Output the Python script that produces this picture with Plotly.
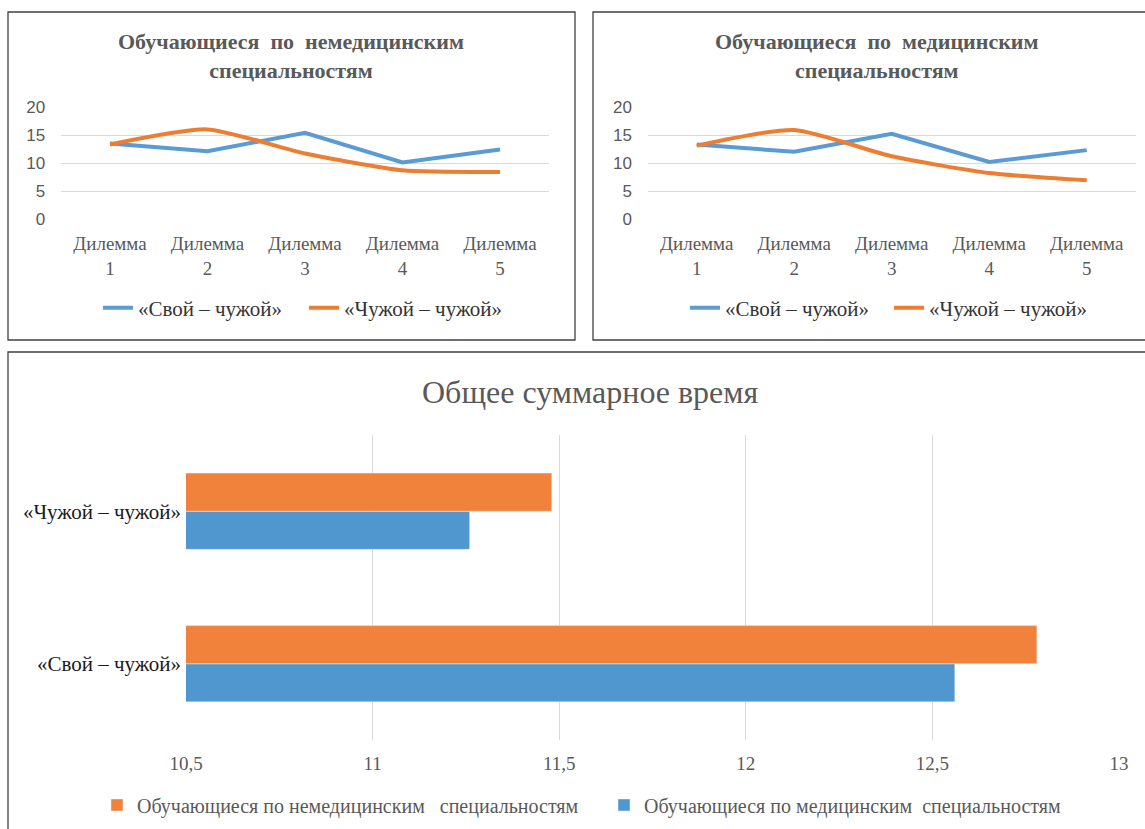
import plotly.graph_objects as go

W, H = 1145, 829

dilemmas = ["Дилемма<br>1", "Дилемма<br>2", "Дилемма<br>3", "Дилемма<br>4", "Дилемма<br>5"]

# Обучающиеся по немедицинским специальностям
nonmed_own = [13.5, 12.1, 15.4, 10.1, 12.4]
nonmed_other = [13.3, 16.0, 11.7, 8.7, 8.4]

# Обучающиеся по медицинским специальностям
med_own = [13.3, 12.0, 15.2, 10.2, 12.3]
med_other = [13.1, 15.9, 11.2, 8.2, 6.9]

# Общее суммарное время
total_categories = ["«Свой – чужой»", "«Чужой – чужой»"]
total_nonmed = [12.78, 11.48]
total_med = [12.56, 11.26]
total_ticks = [10.5, 11, 11.5, 12, 12.5, 13]
total_ticktext = ["10,5", "11", "11,5", "12", "12,5", "13"]

series_names = ["«Свой – чужой»", "«Чужой – чужой»"]
bar_names = ["Обучающиеся по немедицинским\u00a0\u00a0 специальностям",
             "Обучающиеся по медицинским\u00a0\u00a0специальностям"]

BLUE = "#5B9BD5"
ORANGE = "#ED7D31"
GRID = "#d9d9d9"
TXT = "#595959"
SERIF = '"Liberation Serif", "Times New Roman", "DejaVu Serif", serif'
SANS = '"Liberation Sans", Arial, sans-serif'


def px_x(p):
    return p / W


def px_y(p):
    return 1 - p / H


fig = go.Figure()

# panel 1
fig.add_trace(go.Scatter(x=dilemmas, y=nonmed_own, name=series_names[0], mode="lines",
                         line=dict(color=BLUE, width=4), xaxis="x", yaxis="y", legend="legend"))
fig.add_trace(go.Scatter(x=dilemmas, y=nonmed_other, name=series_names[1], mode="lines",
                         line=dict(color=ORANGE, width=4, shape="spline", smoothing=0.6),
                         xaxis="x", yaxis="y", legend="legend2"))
# panel 2
fig.add_trace(go.Scatter(x=dilemmas, y=med_own, name=series_names[0], mode="lines",
                         line=dict(color=BLUE, width=4), xaxis="x2", yaxis="y2", legend="legend3"))
fig.add_trace(go.Scatter(x=dilemmas, y=med_other, name=series_names[1], mode="lines",
                         line=dict(color=ORANGE, width=4, shape="spline", smoothing=0.6),
                         xaxis="x2", yaxis="y2", legend="legend4"))
# panel 3
fig.add_trace(go.Bar(y=total_categories, x=total_med, name=bar_names[1], orientation="h",
                     marker=dict(color="#5097D0"), xaxis="x3", yaxis="y3", legend="legend6"))
fig.add_trace(go.Bar(y=total_categories, x=total_nonmed, name=bar_names[0], orientation="h",
                     marker=dict(color="#F0823C"), xaxis="x3", yaxis="y3", legend="legend5"))

line_x = dict(type="category", showgrid=False, showline=False, zeroline=False, ticks="",
              range=[-0.5, 4.5], tickfont=dict(family=SERIF, size=19, color=TXT),
              ticklabelstandoff=11, automargin=False)
line_y = dict(range=[0, 20], dtick=5, showgrid=True, gridcolor=GRID, gridwidth=1,
              zeroline=False, showline=False, ticks="",
              tickfont=dict(family=SANS, size=17, color=TXT), ticklabelstandoff=15,
              automargin=False)


def leg(xp, yp, size, color):
    return dict(orientation="h", x=px_x(xp), y=px_y(yp), xanchor="left", yanchor="middle",
                font=dict(family=SERIF, size=size, color=color), bgcolor="rgba(0,0,0,0)",
                borderwidth=0)


fig.update_layout(
    width=W, height=H,
    margin=dict(l=0, r=0, t=0, b=0, autoexpand=False),
    paper_bgcolor="white", plot_bgcolor="white",
    separators=", ",
    barmode="group", bargap=0.5, bargroupgap=0,
    xaxis=dict(domain=[px_x(61.25), px_x(548.75)], anchor="y", **line_x),
    yaxis=dict(domain=[px_y(219), px_y(107)], anchor="x", **line_y),
    xaxis2=dict(domain=[px_x(648), px_x(1135.5)], anchor="y2", **line_x),
    yaxis2=dict(domain=[px_y(219), px_y(107)], anchor="x2", **line_y),
    xaxis3=dict(domain=[px_x(186), px_x(1119)], anchor="y3", range=[10.5, 13],
                tickvals=total_ticks, ticktext=total_ticktext,
                showgrid=True, gridcolor=GRID, zeroline=False, showline=False, ticks="",
                tickfont=dict(family=SERIF, size=19, color=TXT), ticklabelstandoff=10,
                automargin=False),
    yaxis3=dict(domain=[px_y(740), px_y(435)], anchor="x3", type="category",
                showgrid=False, zeroline=False, showline=False, ticks="",
                tickfont=dict(family=SERIF, size=21, color="#1a1a1a"), ticklabelstandoff=4,
                automargin=False),
    legend=leg(98, 308, 21, "#333333"),
    legend2=leg(304, 308, 21, "#333333"),
    legend3=leg(685, 308, 21, "#333333"),
    legend4=leg(889, 308, 21, "#333333"),
    legend5=leg(97, 805, 20, TXT),
    legend6=leg(604, 805, 20, TXT),
    showlegend=True,
)

fig.add_annotation(text="<b>Обучающиеся\u00a0 по\u00a0 немедицинским<br>специальностям</b>",
                   xref="paper", yref="paper", x=px_x(291), y=px_y(56),
                   xanchor="center", yanchor="middle", showarrow=False,
                   font=dict(family=SERIF, size=22, color=TXT))
fig.add_annotation(text="<b>Обучающиеся\u00a0 по\u00a0 медицинским<br>специальностям</b>",
                   xref="paper", yref="paper", x=px_x(877), y=px_y(56),
                   xanchor="center", yanchor="middle", showarrow=False,
                   font=dict(family=SERIF, size=22, color=TXT))
fig.add_annotation(text="Общее суммарное время",
                   xref="paper", yref="paper", x=px_x(590), y=px_y(392),
                   xanchor="center", yanchor="middle", showarrow=False,
                   font=dict(family=SERIF, size=32, color=TXT))

box_line = dict(color="#404040", width=1.3)
fig.add_shape(type="rect", xref="paper", yref="paper", x0=px_x(8), x1=px_x(575),
              y0=px_y(340), y1=px_y(12), line=box_line)
fig.add_shape(type="rect", xref="paper", yref="paper", x0=px_x(593), x1=px_x(1150),
              y0=px_y(340), y1=px_y(12), line=box_line)
fig.add_shape(type="rect", xref="paper", yref="paper", x0=px_x(8), x1=px_x(1150),
              y0=px_y(835), y1=px_y(352), line=box_line)

fig.write_html("out.html", config={"displayModeBar": False},
               post_script="document.body.style.margin='0';document.body.style.overflow='hidden';")
